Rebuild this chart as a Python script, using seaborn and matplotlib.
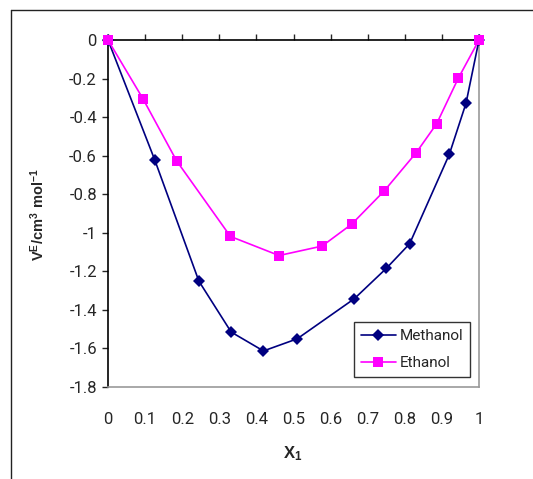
import numpy as np
import pandas as pd
import matplotlib
matplotlib.use("Agg")
import matplotlib.pyplot as plt
import seaborn as sns
from matplotlib.lines import Line2D

# values
methanol_x = [0.0, 0.126, 0.245, 0.332, 0.419, 0.510, 0.664, 0.750, 0.813, 0.920, 0.965, 1.0]
methanol_v = [0.0, -0.622, -1.251, -1.515, -1.613, -1.550, -1.342, -1.185, -1.057, -0.593, -0.328, 0.0]
ethanol_x = [0.0, 0.094, 0.185, 0.330, 0.461, 0.577, 0.657, 0.744, 0.831, 0.886, 0.944, 1.0]
ethanol_v = [0.0, -0.304, -0.627, -1.019, -1.118, -1.069, -0.955, -0.784, -0.584, -0.434, -0.199, 0.0]

x_ticks = [0, 0.1, 0.2, 0.3, 0.4, 0.5, 0.6, 0.7, 0.8, 0.9, 1]
y_ticks = [0, -0.2, -0.4, -0.6, -0.8, -1, -1.2, -1.4, -1.6, -1.8]

df = pd.concat([
    pd.DataFrame({"x": methanol_x, "v": methanol_v, "series": "Methanol"}),
    pd.DataFrame({"x": ethanol_x, "v": ethanol_v, "series": "Ethanol"}),
])

sns.set_style("white")
plt.rcParams["font.family"] = ["Roboto", "DejaVu Sans"]
plt.rcParams["mathtext.fontset"] = "custom"
plt.rcParams["mathtext.rm"] = "Liberation Sans"
plt.rcParams["mathtext.bf"] = "Liberation Sans:bold"

fig = plt.figure(figsize=(5.33, 4.79), dpi=100)
ax = fig.add_axes([108 / 533, 1 - 387 / 479, 371 / 533, 347 / 479])

sns.lineplot(
    data=df, x="x", y="v", hue="series", style="series",
    palette={"Methanol": "#000080", "Ethanol": "#FF00FF"},
    markers={"Methanol": "D", "Ethanol": "s"},
    dashes=False, sort=False, linewidth=1.2, markersize=6.5,
    markeredgewidth=0, ax=ax, clip_on=False, zorder=3,
)

ax.set_xlim(0, 1)
ax.set_ylim(-1.8, 0)
ax.set_xticks(x_ticks)
ax.set_xticklabels([f"{t:g}" for t in x_ticks])
ax.set_yticks(y_ticks)
ax.set_yticklabels([f"{t:g}" for t in y_ticks])

ax.tick_params(axis="x", top=True, bottom=False, labeltop=False, labelbottom=True,
               direction="out", length=4, width=1, pad=14, labelsize=12)
ax.tick_params(axis="y", left=True, direction="out", length=4, width=1, pad=4, labelsize=12)

for side in ["top", "left"]:
    ax.spines[side].set_color("black")
    ax.spines[side].set_linewidth(1.2)
for side in ["right", "bottom"]:
    ax.spines[side].set_color("#999999")
    ax.spines[side].set_linewidth(1.2)

ax.set_xlabel(r"$\mathbf{X_{1}}$", fontsize=12)
ax.set_ylabel(r"$\mathbf{V^{E}/cm^{3}\ mol^{-1}}$", fontsize=10.5)
ax.xaxis.set_label_coords(0.499, -0.165)
ax.yaxis.set_label_coords(-0.165, 0.496)

leg = ax.legend(loc="lower right", bbox_to_anchor=(0.976, 0.029), borderaxespad=0,
                frameon=True, fancybox=False, fontsize=11, borderpad=0.45,
                handlelength=2.3, handletextpad=0.25, labelspacing=0.85)
leg.get_frame().set_edgecolor("black")
leg.get_frame().set_linewidth(1)
leg.set_title(None)

# outer chart-area border (left and top edges only are visible)
fig.add_artist(Line2D([11 / 533, 11 / 533], [0, 1 - 10 / 479], color="#222222", lw=1,
                      transform=fig.transFigure))
fig.add_artist(Line2D([11 / 533, 1], [1 - 10 / 479, 1 - 10 / 479], color="#222222", lw=1,
                      transform=fig.transFigure))

fig.savefig("out.png", dpi=100)
